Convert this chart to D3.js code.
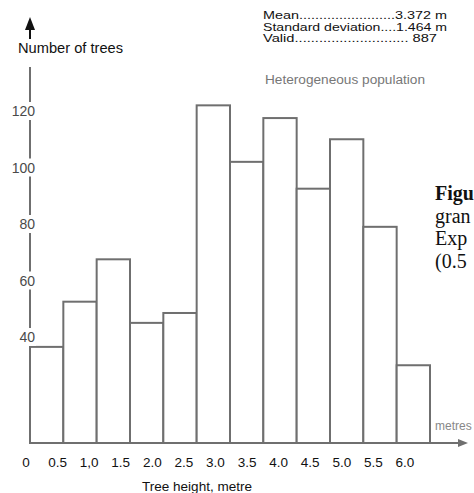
<!DOCTYPE html>
<html>
<head>
<meta charset="utf-8">
<script src="https://cdn.jsdelivr.net/npm/d3@7"></script>
<style>
  html, body { margin: 0; padding: 0; background: #fff; }
  svg { display: block; }
</style>
</head>
<body>
<svg id="chart" width="474" height="493"></svg>
<script>
// ---- data ----
const binStarts = [0, 0.5, 1.0, 1.5, 2.0, 2.5, 3.0, 3.5, 4.0, 4.5, 5.0, 5.5];
const binWidth = 0.5;
const counts = [36.5, 52.5, 67.5, 45, 48.5, 122, 102, 117.5, 92.5, 110, 79, 30];
const xTickValues = [0, 0.5, 1.0, 1.5, 2.0, 2.5, 3.0, 3.5, 4.0, 4.5, 5.0, 5.5, 6.0];
const xTickLabels = ["0", "0.5", "1,0", "1.5", "2.0", "2.5", "3.0", "3.5", "4.0", "4.5", "5.0", "5.5", "6.0"];
const yTickValues = [40, 60, 80, 100, 120];
const statLines = ["Mean........................3.372 m", "Standard deviation....1.464 m", "Valid............................ 887"];
const captionFragments = ["Figu", "gran", "Exp", "(0.5"];

// ---- drawing ----
const svg = d3.select("#chart");
const gray = "#6f6f6f";
const baseline = 443;

const x = d3.scaleLinear().domain([0, 6]).range([30, 430]);
const xLab = d3.scaleLinear().domain([0, 6]).range([26, 405]);
const y = d3.scaleLinear().domain([0, 130]).range([450, 450 - 2.825 * 130]);

// y axis line
svg.append("line").attr("x1", 30).attr("x2", 30).attr("y1", 67).attr("y2", baseline)
  .attr("stroke", gray).attr("stroke-width", 2);

// bars
svg.append("g").selectAll("rect").data(binStarts).join("rect")
  .attr("x", (d) => x(d))
  .attr("y", (d, i) => y(counts[i]))
  .attr("width", (d) => x(d + binWidth) - x(d))
  .attr("height", (d, i) => baseline - y(counts[i]))
  .attr("fill", "#fff")
  .attr("stroke", gray)
  .attr("stroke-width", 2);

// x axis line with arrow
svg.append("line").attr("x1", 29).attr("x2", 460).attr("y1", baseline).attr("y2", baseline)
  .attr("stroke", gray).attr("stroke-width", 2);
svg.append("path").attr("d", `M458,${baseline - 4}L468,${baseline}L458,${baseline + 4}Z`).attr("fill", gray);

// y tick labels with gaps in the axis
const yt = svg.append("g");
yt.selectAll("rect").data(yTickValues).join("rect")
  .attr("x", 24).attr("width", 12)
  .attr("y", (d) => y(d) - 9).attr("height", 18)
  .attr("fill", "#fff");
yt.selectAll("text").data(yTickValues).join("text")
  .attr("x", 35).attr("y", (d) => y(d) + 5)
  .attr("text-anchor", "end")
  .attr("font-family", "Liberation Sans, Arial, sans-serif")
  .attr("font-size", 14).attr("fill", "#4a4a4a")
  .text((d) => d);

// y axis arrow + title
svg.append("line").attr("x1", 30).attr("x2", 30).attr("y1", 26).attr("y2", 39)
  .attr("stroke", "#111").attr("stroke-width", 2);
svg.append("path").attr("d", "M25,30L30,17L35,30Z").attr("fill", "#111");
svg.append("text").attr("x", 18).attr("y", 53)
  .attr("font-family", "Liberation Sans, Arial, sans-serif")
  .attr("font-size", 14).attr("textLength", 105).attr("lengthAdjust", "spacingAndGlyphs")
  .attr("fill", "#111").text("Number of trees");

// x tick labels
svg.append("g").selectAll("text").data(xTickValues).join("text")
  .attr("x", (d) => xLab(d)).attr("y", 467)
  .attr("text-anchor", "middle")
  .attr("font-family", "Liberation Sans, Arial, sans-serif")
  .attr("font-size", 13.5).attr("fill", "#111")
  .text((d, i) => xTickLabels[i]);

svg.append("text").attr("x", 197).attr("y", 491)
  .attr("text-anchor", "middle")
  .attr("font-family", "Liberation Sans, Arial, sans-serif")
  .attr("font-size", 13).attr("fill", "#111")
  .attr("textLength", 110).attr("lengthAdjust", "spacingAndGlyphs")
  .text("Tree height, metre");

svg.append("text").attr("x", 435).attr("y", 430)
  .attr("font-family", "Liberation Sans, Arial, sans-serif")
  .attr("font-size", 12).attr("fill", "#888")
  .text("metres");

// stats block
const statWidths = [184, 184, 174];
svg.append("g").selectAll("text").data(statLines).join("text")
  .attr("x", 263).attr("y", (d, i) => 19 + i * 11.5)
  .attr("font-family", "Liberation Sans, Arial, sans-serif")
  .attr("font-size", 11.5).attr("fill", "#111")
  .attr("textLength", (d, i) => statWidths[i]).attr("lengthAdjust", "spacingAndGlyphs")
  .text((d) => d);

svg.append("text").attr("x", 265).attr("y", 84)
  .attr("font-family", "Liberation Sans, Arial, sans-serif")
  .attr("font-size", 12).attr("fill", "#777")
  .attr("textLength", 160).attr("lengthAdjust", "spacingAndGlyphs")
  .text("Heterogeneous population");

// caption fragments at right edge
svg.append("g").selectAll("text").data(captionFragments).join("text")
  .attr("x", 435).attr("y", (d, i) => 200 + i * 22.5)
  .attr("font-family", "Liberation Serif, Times New Roman, serif")
  .attr("font-size", 20)
  .attr("font-weight", (d, i) => i === 0 ? "bold" : "normal")
  .attr("fill", "#111")
  .text((d) => d);
</script>
</body>
</html>
